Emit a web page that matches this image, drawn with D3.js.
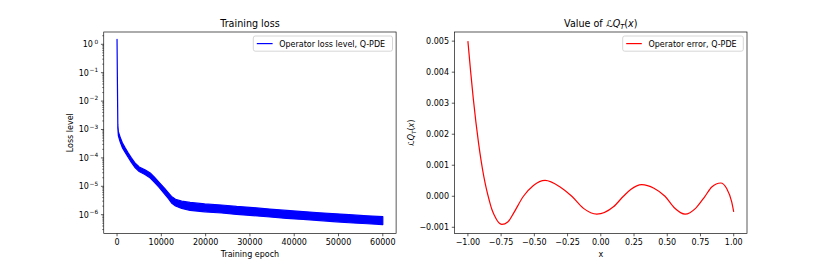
<!DOCTYPE html>
<html><head><meta charset="utf-8">
<script src="https://cdn.jsdelivr.net/npm/d3@7"></script>
<style>
body{margin:0;background:#fff;}
text{font-family:"DejaVu Sans",sans-serif;fill:#000;}
</style></head>
<body><svg id="c" width="830" height="267"></svg>
<script>
// ---- Left panel data: training loss band (lower/upper envelope of noisy curve)
const lossEpochs = [0,100,180,300,700,1200,1800,2500,3200,4000,5000,6300,7500,8500,9500,10800,11600,12300,13200,14600,16500,19800,23600,27000,30700,34500,38300,42000,45800,49500,53300,56500,60000];
const lossUpper = [1.48,0.0282,1.45e-3,8.3e-4,5.4e-4,3.4e-4,2.3e-4,1.5e-4,1.02e-4,6.8e-5,4.8e-5,3.8e-5,2.95e-5,2.04e-5,1.38e-5,8.3e-6,5.9e-6,4.4e-6,3.5e-6,3.0e-6,2.7e-6,2.4e-6,2.2e-6,1.95e-6,1.78e-6,1.58e-6,1.41e-6,1.29e-6,1.17e-6,1.07e-6,9.8e-7,9.1e-7,8.5e-7];
const lossLower = [1.35,0.0224,1.10e-3,6.0e-4,3.7e-4,2.3e-4,1.6e-4,1.05e-4,7.1e-5,4.7e-5,3.3e-5,2.6e-5,1.95e-5,1.35e-5,9.1e-6,5.2e-6,3.7e-6,2.6e-6,2.04e-6,1.66e-6,1.41e-6,1.26e-6,1.15e-6,1.02e-6,9.3e-7,8.3e-7,7.4e-7,6.8e-7,6.2e-7,5.6e-7,5.1e-7,4.8e-7,4.5e-7];
const lossXTicks = [0,10000,20000,30000,40000,50000,60000];
const lossYTickExp = [0,-1,-2,-3,-4,-5,-6];

// ---- Right panel data: operator error curve
const errX = [-1.0,-0.98,-0.96,-0.94,-0.92,-0.90,-0.88,-0.86,-0.84,-0.82,-0.80,-0.78,-0.76,-0.744,-0.70,-0.657,-0.582,-0.507,-0.419,-0.306,-0.218,-0.13,-0.03,0.095,0.17,0.225,0.308,0.40,0.483,0.555,0.634,0.715,0.784,0.835,0.902,0.947,0.985,1.0];
const errY = [0.00500,0.00405,0.00317,0.00240,0.00172,0.00113,0.00063,0.00022,-0.00012,-0.00042,-0.00062,-0.00078,-0.00088,-0.000907,-0.00083,-0.00055,0.0,0.00035,0.000513,0.00030,0.0,-0.00039,-0.000577,-0.00034,0.0,0.00022,0.000375,0.00026,0.0,-0.00038,-0.000577,-0.00038,0.0,0.00030,0.000427,0.00025,-0.00018,-0.00050];
const errXTicks = [-1.0,-0.75,-0.5,-0.25,0.0,0.25,0.5,0.75,1.0];
const errYTicks = [-0.001,0.0,0.001,0.002,0.003,0.004,0.005];

const svg = d3.select("#c");
const FS = 8, TFS = 9.6;
const yTop = 32, yBot = 233.5;
const L = {x0:103.75, x1:396.1}, R = {x0:454.6, x1:747};
const minus = s => s.replace(/-/g, "\u2212");

function frame(g, P){
  g.append("rect").attr("x",P.x0).attr("y",yTop).attr("width",P.x1-P.x0).attr("height",yBot-yTop)
   .attr("fill","none").attr("stroke","#000").attr("stroke-width",0.65);
}

// ---------- Left panel
const xL = d3.scaleLinear().domain([-3000,63000]).range([L.x0,L.x1]);
const yL = d3.scaleLog().domain([Math.pow(10,-6.662),Math.pow(10,0.433)]).range([yBot,yTop]);
const gL = svg.append("g");
svg.append("clipPath").attr("id","clipL").append("rect")
  .attr("x",L.x0).attr("y",yTop).attr("width",L.x1-L.x0).attr("height",yBot-yTop);
const band = d3.area().x((d,i)=>xL(lossEpochs[i])).y0((d,i)=>yL(lossLower[i])).y1((d,i)=>yL(lossUpper[i])).curve(d3.curveLinear);
gL.append("path").datum(lossEpochs).attr("clip-path","url(#clipL)")
  .attr("d",band).attr("fill","#0000ff").attr("stroke","#0000ff").attr("stroke-width",1.2).attr("stroke-linejoin","round");

lossXTicks.forEach(t=>{
  gL.append("line").attr("x1",xL(t)).attr("x2",xL(t)).attr("y1",yBot).attr("y2",yBot+2.8).attr("stroke","#000").attr("stroke-width",0.65);
  gL.append("text").attr("x",xL(t)).attr("y",yBot+11.2).attr("text-anchor","middle").attr("font-size",FS).text(d3.format("d")(t));
});
lossYTickExp.forEach(e=>{
  const y = yL(Math.pow(10,e));
  gL.append("line").attr("x1",L.x0-2.8).attr("x2",L.x0).attr("y1",y).attr("y2",y).attr("stroke","#000").attr("stroke-width",0.65);
  gL.append("text").attr("x",L.x0-5.6-(e<0?9.2:5.2)).attr("y",y+2.9).attr("text-anchor","end").attr("font-size",FS).text("10");
  gL.append("text").attr("x",L.x0-5.6).attr("y",y-0.6).attr("text-anchor","end").attr("font-size",5.8).text(minus(String(e)));
});
for(let e=-7;e<=0;e++){
  for(let m=2;m<=9;m++){
    const v = m*Math.pow(10,e);
    if(v<yL.domain()[0]||v>yL.domain()[1]) continue;
    const y = yL(v);
    gL.append("line").attr("x1",L.x0-1.6).attr("x2",L.x0).attr("y1",y).attr("y2",y).attr("stroke","#000").attr("stroke-width",0.5);
  }
}
frame(gL,L);
gL.append("text").attr("x",(L.x0+L.x1)/2).attr("y",27).attr("text-anchor","middle").attr("font-size",TFS).text("Training loss");
gL.append("text").attr("x",(L.x0+L.x1)/2).attr("y",257).attr("text-anchor","middle").attr("font-size",FS).text("Training epoch");
gL.append("text").attr("transform",`translate(72.5,${(yTop+yBot)/2}) rotate(-90)`).attr("text-anchor","middle").attr("font-size",FS).text("Loss level");
const legL = gL.append("g");
legL.append("rect").attr("x",253.3).attr("y",36).attr("width",139.2).attr("height",15.2).attr("rx",2)
  .attr("fill","#fff").attr("fill-opacity",0.8).attr("stroke","#cccccc").attr("stroke-width",0.8);
legL.append("line").attr("x1",256.8).attr("x2",272.6).attr("y1",43.6).attr("y2",43.6).attr("stroke","#0000ff").attr("stroke-width",1.2);
legL.append("text").attr("x",279.2).attr("y",46.5).attr("font-size",FS).text("Operator loss level, Q-PDE");

// ---------- Right panel
const xR = d3.scaleLinear().domain([-1.1,1.1]).range([R.x0,R.x1]);
const yR = d3.scaleLinear().domain([-0.0012,0.005295]).range([yBot,yTop]);
const gR = svg.append("g");
const line = d3.line().x((d,i)=>xR(errX[i])).y((d,i)=>yR(errY[i])).curve(d3.curveMonotoneX);
gR.append("path").datum(errX).attr("d",line).attr("fill","none").attr("stroke","#ff0000").attr("stroke-width",1.2);
errXTicks.forEach(t=>{
  gR.append("line").attr("x1",xR(t)).attr("x2",xR(t)).attr("y1",yBot).attr("y2",yBot+2.8).attr("stroke","#000").attr("stroke-width",0.65);
  gR.append("text").attr("x",xR(t)).attr("y",yBot+11.2).attr("text-anchor","middle").attr("font-size",FS).text(minus(d3.format(".2f")(t)));
});
errYTicks.forEach(t=>{
  gR.append("line").attr("x1",R.x0-2.8).attr("x2",R.x0).attr("y1",yR(t)).attr("y2",yR(t)).attr("stroke","#000").attr("stroke-width",0.65);
  gR.append("text").attr("x",R.x0-5.6).attr("y",yR(t)+2.9).attr("text-anchor","end").attr("font-size",FS).text(minus(d3.format(".3f")(t)));
});
frame(gR,R);
function mathLabel(t, size){
  t.append("tspan").attr("font-style","italic").text("\u2112Q");
  t.append("tspan").attr("font-style","italic").attr("font-size",size*0.7).attr("dy",size*0.22).text("T");
  t.append("tspan").attr("dy",-size*0.22).text("(");
  t.append("tspan").attr("font-style","italic").text("x");
  t.append("tspan").text(")");
}
const tR = gR.append("text").attr("x",(R.x0+R.x1)/2).attr("y",27).attr("text-anchor","middle").attr("font-size",TFS);
tR.append("tspan").text("Value of ");
mathLabel(tR,TFS);
gR.append("text").attr("x",(R.x0+R.x1)/2).attr("y",257).attr("text-anchor","middle").attr("font-size",FS).text("x");
const yl = gR.append("text").attr("transform",`translate(414,${(yTop+yBot)/2}) rotate(-90)`).attr("text-anchor","middle").attr("font-size",FS);
mathLabel(yl,FS);
const legR = gR.append("g");
legR.append("rect").attr("x",622.7).attr("y",36).attr("width",120.6).attr("height",15.2).attr("rx",2)
  .attr("fill","#fff").attr("fill-opacity",0.8).attr("stroke","#cccccc").attr("stroke-width",0.8);
legR.append("line").attr("x1",626.2).attr("x2",641.8).attr("y1",43.6).attr("y2",43.6).attr("stroke","#ff0000").attr("stroke-width",1.2);
legR.append("text").attr("x",648.4).attr("y",46.5).attr("font-size",FS).text("Operator error, Q-PDE");
</script></body></html>
